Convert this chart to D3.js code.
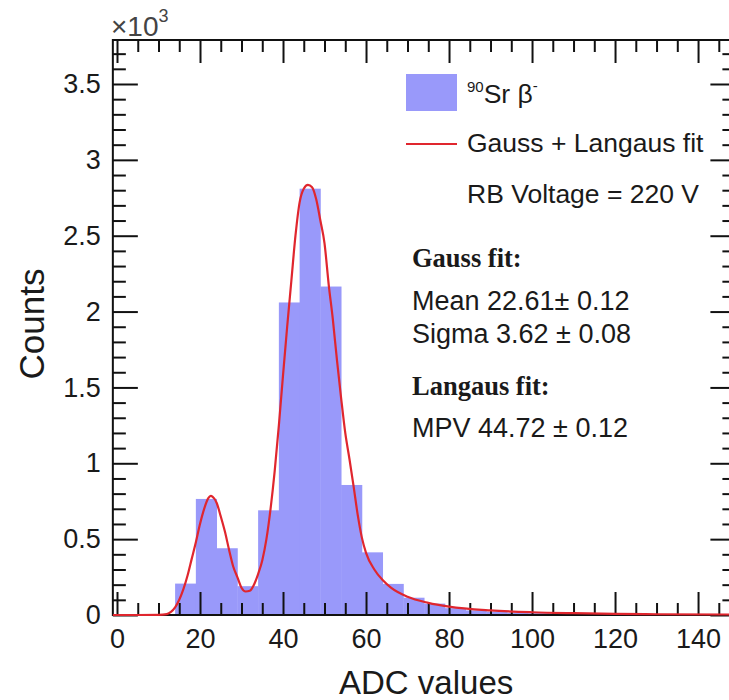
<!DOCTYPE html>
<meta charset="utf-8">
<style>
  body { margin: 0; background: #fff; }
  svg text { font-family: "Liberation Sans", Arial, sans-serif; fill: #1a1a1a; }
  .serif { font-family: "Liberation Serif", "Times New Roman", serif !important; font-weight: bold; }
  .axis path { display: none; }
  .axis line { stroke: #111; stroke-width: 2px; }
</style>
<body>
<script src="https://d3js.org/d3.v7.min.js"></script>
<script>
// histogram: bin low edges (ADC), bin width 5, counts in units of 10^3
var binLow = [-1, 4, 9, 14, 19, 24, 29, 34, 39, 44, 49, 54, 59, 64, 69, 74, 79, 84, 89, 94,
              99, 104, 109, 114, 119, 124, 129, 134, 139, 144];
var binWidth = 5;
var binCounts = [0, 0, 0.004, 0.207, 0.765, 0.44, 0.19, 0.69, 2.06, 2.81, 2.165, 0.857, 0.413, 0.205,
                 0.114, 0.075, 0.045, 0.03, 0.022, 0.016, 0.012, 0.01, 0.008, 0.006, 0.005, 0.004,
                 0.003, 0.003, 0.002, 0.002];

// Gauss + Langaus fit curve
var fitX = [-1, 5, 10, 12, 13, 14, 15, 16, 17, 18, 19, 20, 21, 22, 22.6, 23, 24, 25, 26, 27, 28, 29,
            30, 31, 32, 33, 34, 35, 36, 37, 38, 39, 40, 41, 42, 43, 44, 45, 46, 47, 48, 49, 50, 51,
            52, 53, 54, 55, 56, 57, 58, 59, 60, 62, 64, 66, 70, 75, 80, 90, 100, 110, 120, 130, 149];
var fitY = [0, 0, 0.001, 0.006, 0.02, 0.05, 0.1, 0.17, 0.26, 0.37, 0.48, 0.6, 0.7, 0.77, 0.785, 0.78,
            0.74, 0.65, 0.55, 0.43, 0.32, 0.25, 0.18, 0.155, 0.16, 0.2, 0.27, 0.36, 0.5, 0.7, 0.95,
            1.25, 1.58, 1.9, 2.2, 2.5, 2.72, 2.81, 2.835, 2.82, 2.74, 2.6, 2.45, 2.18, 1.95, 1.68,
            1.43, 1.2, 1.03, 0.85, 0.66, 0.51, 0.41, 0.3, 0.23, 0.18, 0.12, 0.08, 0.055, 0.03, 0.018,
            0.012, 0.008, 0.005, 0.003];

var xMajor = [0, 20, 40, 60, 80, 100, 120, 140];
var yMajor = [0, 0.5, 1, 1.5, 2, 2.5, 3, 3.5];

var W = 729, H = 700;
var pL = 112.85, pR = 735.4, pT = 40, pB = 615;

var svg = d3.select("body").append("svg")
    .attr("width", W).attr("height", H);

var x = d3.scaleLinear().domain([-1, 149]).range([pL, pR]);
var y = d3.scaleLinear().domain([0, 3.79]).range([pB, pT]);

// bars
svg.append("g").selectAll("rect")
    .data(binLow)
    .enter().append("rect")
    .attr("x", function(d) { return x(d); })
    .attr("width", function(d) { return x(d + binWidth) - x(d) + 0.4; })
    .attr("y", function(d, i) { return y(binCounts[i]); })
    .attr("height", function(d, i) { return y(0) - y(binCounts[i]); })
    .attr("fill", "#9999fa");

// minor tick values
var xMinor = d3.range(0, 149, 5).filter(function(v) { return v % 20 !== 0; });
var yMinor = d3.range(0, 38).map(function(i) { return i / 10; })
    .filter(function(v) { return Math.abs(v * 2 - Math.round(v * 2)) > 1e-6; });

function addAxis(axis, tr) {
  svg.append("g").attr("class", "axis").attr("transform", tr).call(axis);
}
// bottom
addAxis(d3.axisBottom(x).tickValues(xMajor).tickSize(-23).tickPadding(14)
  .tickFormat(d3.format("d")), "translate(0," + pB + ")");
addAxis(d3.axisBottom(x).tickValues(xMinor).tickSize(-12).tickFormat(""), "translate(0," + pB + ")");
// top
addAxis(d3.axisTop(x).tickValues(xMajor).tickSize(-23).tickFormat(""), "translate(0," + pT + ")");
addAxis(d3.axisTop(x).tickValues(xMinor).tickSize(-12).tickFormat(""), "translate(0," + pT + ")");
// left
addAxis(d3.axisLeft(y).tickValues(yMajor).tickSize(-25).tickPadding(12)
  .tickFormat(d3.format("~g")), "translate(" + pL + ",0)");
addAxis(d3.axisLeft(y).tickValues(yMinor).tickSize(-13).tickFormat(""), "translate(" + pL + ",0)");
// right
addAxis(d3.axisRight(y).tickValues(yMajor).tickSize(-25).tickFormat(""), "translate(" + pR + ",0)");
addAxis(d3.axisRight(y).tickValues(yMinor).tickSize(-13).tickFormat(""), "translate(" + pR + ",0)");

svg.selectAll(".axis text").style("font-size", "27px").style("fill", "#1a1a1a");

// frame
svg.append("rect")
    .attr("x", pL).attr("y", pT)
    .attr("width", pR - pL).attr("height", pB - pT)
    .attr("fill", "none").attr("stroke", "#111").attr("stroke-width", 2);

// fit curve
var line = d3.line()
    .x(function(d, i) { return x(fitX[i]); })
    .y(function(d) { return y(d); })
    .curve(d3.curveMonotoneX);
svg.append("path")
    .datum(fitY)
    .attr("d", line)
    .attr("fill", "none")
    .attr("stroke", "#e0262e")
    .attr("stroke-width", 2.2);

// axis titles
svg.append("text")
    .attr("x", (pL + pR) / 2 + 2).attr("y", 694)
    .attr("text-anchor", "middle")
    .style("font-size", "33px")
    .text("ADC values");
svg.append("text")
    .attr("transform", "translate(44,324) rotate(-90)")
    .attr("text-anchor", "middle")
    .style("font-size", "35px")
    .text("Counts");

// x10^3
var mult = svg.append("text").attr("x", 111).attr("y", 36).style("font-size", "28px").style("fill", "#444");
mult.append("tspan").text("\u00d710");
mult.append("tspan").attr("dy", -14).style("font-size", "18px").text("3");

// legend
svg.append("rect").attr("x", 406).attr("y", 74).attr("width", 51).attr("height", 37).attr("fill", "#9999fa");
var lg = svg.append("text").attr("x", 467).attr("y", 103).style("font-size", "26.5px");
lg.append("tspan").attr("dy", -11).style("font-size", "15px").text("90");
lg.append("tspan").attr("dy", 11).text("Sr \u03b2");
lg.append("tspan").attr("dy", -12).style("font-size", "15px").text("-");

svg.append("line").attr("x1", 406).attr("x2", 457).attr("y1", 144).attr("y2", 144)
    .attr("stroke", "#e0262e").attr("stroke-width", 2);
svg.append("text").attr("x", 467).attr("y", 152).style("font-size", "26.5px").text("Gauss + Langaus fit");
svg.append("text").attr("x", 467).attr("y", 203).style("font-size", "26.5px").text("RB Voltage = 220 V");

// fit results
svg.append("text").attr("class", "serif").attr("x", 412).attr("y", 267).style("font-size", "26.5px").text("Gauss fit:");
svg.append("text").attr("x", 412).attr("y", 310).style("font-size", "27px").text("Mean 22.61\u00b1 0.12");
svg.append("text").attr("x", 412).attr("y", 343).style("font-size", "27px").text("Sigma 3.62 \u00b1 0.08");
svg.append("text").attr("class", "serif").attr("x", 412).attr("y", 395).style("font-size", "26.5px").text("Langaus fit:");
svg.append("text").attr("x", 412).attr("y", 437).style("font-size", "27px").text("MPV 44.72 \u00b1 0.12");
</script>
</body>
